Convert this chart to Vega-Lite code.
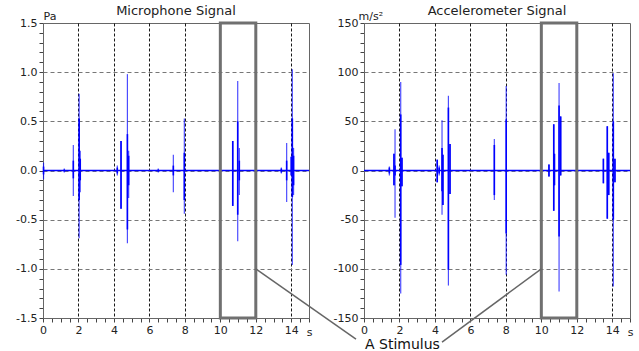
{
  "$schema": "https://vega.github.io/schema/vega-lite/v6.json",
  "background": "white",
  "padding": {"left": 15, "top": 4, "right": 0, "bottom": 0},
  "bounds": "flush",
  "spacing": 55,
  "config": {
    "font": "DejaVu Sans",
    "view": {"stroke": "#666", "strokeWidth": 1},
    "axis": {"labelFont": "DejaVu Sans", "labelFontSize": 11, "labelColor": "#222", "domainColor": "#666", "ticks": true, "tickColor": "#444", "tickSize": 4, "tickCount": 100, "labelPadding": 2, "labelOverlap": false, "labelBound": false, "titleFont": "DejaVu Sans", "titleFontSize": 11, "titleFontWeight": "normal", "titleColor": "#222"},
    "title": {"font": "DejaVu Sans", "fontSize": 13, "fontWeight": "normal", "color": "#222", "baseline": "bottom", "offset": -8, "anchor": "middle"}
  },
  "hconcat": [
    {
      "width": 266,
      "height": 295,
      "title": "Microphone Signal",
      "layer": [
        {
          "data": {"values": [{"start": 0, "end": 15, "level": 0}]},
          "mark": {"type": "rule", "color": "#0000ff", "strokeWidth": 1.5},
          "encoding": {
            "x": {"field": "start", "type": "quantitative", "scale": {"domain": [0, 15], "nice": false, "zero": false},
              "axis": {
                "values": [0,0.5,1,1.5,2,2.5,3,3.5,4,4.5,5,5.5,6,6.5,7,7.5,8,8.5,9,9.5,10,10.5,11,11.5,12,12.5,13,13.5,14,14.5,15],
                "tickCount": 100,
                "labelExpr": "datum.value % 2 === 0 && datum.value < 15 ? format(datum.value, 'd') : ''",
                "grid": true, "gridColor": "#000", "gridDash": [3, 2],
                "gridOpacity": {"condition": {"test": "datum.value % 2 === 0 && datum.value > 0 && datum.value < 15", "value": 0.9}, "value": 0},
                "labelFlush": false,
                "title": "s", "titleX": 266, "titleY": 17, "titleAlign": "center", "titleBaseline": "alphabetic"
              }},
            "x2": {"field": "end"},
            "y": {"field": "level", "type": "quantitative", "scale": {"domain": [-1.5, 1.5], "nice": false, "zero": false},
              "axis": {
                "values": [-1.5,-1.4,-1.3,-1.2,-1.1,-1,-0.9,-0.8,-0.7,-0.6,-0.5,-0.4,-0.3,-0.2,-0.1,0,0.1,0.2,0.3,0.4,0.5,0.6,0.7,0.8,0.9,1,1.1,1.2,1.3,1.4,1.5],
                "tickCount": 100,
                "labelExpr": "abs(datum.value*2 - round(datum.value*2)) < 0.001 ? replace(format(datum.value, '.1f'), '\u2212', '-') : ''",
                "grid": true, "gridColor": "#777", "gridDash": [4, 3],
                "gridOpacity": {"condition": {"test": "abs(datum.value*2 - round(datum.value*2)) < 0.001 && abs(datum.value) < 1.4", "value": 1}, "value": 0},
                "labelFlush": false,
                "title": "Pa", "titleAngle": 0, "titleAlign": "left", "titleBaseline": "alphabetic", "titleX": 0, "titleY": -4
              }}
          }
        },
        {
          "data": {"values": [
            {"t": 0.03, "plo": -0.09, "phi": 0.08, "clo": -0.04, "chi": 0.04},
            {"t": 1.2, "plo": -0.02, "phi": 0.02, "clo": -0.01, "chi": 0.01},
            {"t": 1.71, "plo": -0.26, "phi": 0.26, "clo": -0.08, "chi": 0.1},
            {"t": 2.04, "plo": -0.69, "phi": 0.78, "clo": -0.3, "chi": 0.53},
            {"t": 2.1, "plo": -0.22, "phi": 0.2, "clo": -0.1, "chi": 0.12},
            {"t": 4.19, "plo": -0.05, "phi": 0.05, "clo": -0.03, "chi": 0.03},
            {"t": 4.4, "plo": -0.39, "phi": 0.3, "clo": -0.39, "chi": 0.3},
            {"t": 4.76, "plo": -0.74, "phi": 0.98, "clo": -0.6, "chi": 0.37},
            {"t": 4.83, "plo": -0.28, "phi": 0.2, "clo": -0.15, "chi": 0.15},
            {"t": 6.5, "plo": -0.02, "phi": 0.02, "clo": -0.01, "chi": 0.01},
            {"t": 7.35, "plo": -0.22, "phi": 0.16, "clo": -0.05, "chi": 0.05},
            {"t": 7.97, "plo": -0.44, "phi": 0.53, "clo": -0.3, "chi": 0.18},
            {"t": 10.7, "plo": -0.36, "phi": 0.3, "clo": -0.36, "chi": 0.3},
            {"t": 10.98, "plo": -0.72, "phi": 0.91, "clo": -0.45, "chi": 0.5},
            {"t": 11.07, "plo": -0.25, "phi": 0.23, "clo": -0.1, "chi": 0.1},
            {"t": 13.44, "plo": -0.03, "phi": 0.03, "clo": -0.02, "chi": 0.02},
            {"t": 13.74, "plo": -0.32, "phi": 0.28, "clo": -0.1, "chi": 0.1},
            {"t": 14.0, "plo": -0.05, "phi": 0.14, "clo": -0.05, "chi": 0.14},
            {"t": 14.06, "plo": -0.96, "phi": 1.03, "clo": -0.27, "chi": 0.53},
            {"t": 14.13, "plo": -0.25, "phi": 0.23, "clo": -0.15, "chi": 0.15}
          ]},
          "layer": [
            {
              "mark": {"type": "rule", "color": "#0000ff", "opacity": 0.7, "strokeWidth": 1.2},
              "encoding": {
                "x": {"field": "t", "type": "quantitative", "scale": {"domain": [0, 15], "nice": false, "zero": false}},
                "y": {"field": "plo", "type": "quantitative", "scale": {"domain": [-1.5, 1.5], "nice": false, "zero": false}},
                "y2": {"field": "phi"}
              }
            },
            {
              "mark": {"type": "rule", "color": "#0000ff", "strokeWidth": 1.6},
              "encoding": {
                "x": {"field": "t", "type": "quantitative", "scale": {"domain": [0, 15], "nice": false, "zero": false}},
                "y": {"field": "clo", "type": "quantitative", "scale": {"domain": [-1.5, 1.5], "nice": false, "zero": false}},
                "y2": {"field": "chi"}
              }
            }
          ]
        },
        {
          "data": {"values": [{"start": 10, "end": 12, "lo": -1.5, "hi": 1.5}]},
          "mark": {"type": "rect", "fillOpacity": 0, "stroke": "#707070", "strokeWidth": 3},
          "encoding": {
            "x": {"field": "start", "type": "quantitative", "scale": {"domain": [0, 15], "nice": false, "zero": false}},
            "x2": {"field": "end"},
            "y": {"field": "lo", "type": "quantitative", "scale": {"domain": [-1.5, 1.5], "nice": false, "zero": false}},
            "y2": {"field": "hi"}
          }
        },
        {
          "data": {"values": [{"t0": 12, "v0": -1.0, "t1": 17.65, "v1": -1.714}]},
          "mark": {"type": "rule", "color": "#666", "strokeWidth": 1.5, "clip": false},
          "encoding": {
            "x": {"field": "t0", "type": "quantitative", "scale": {"domain": [0, 15], "nice": false, "zero": false}},
            "x2": {"field": "t1"},
            "y": {"field": "v0", "type": "quantitative", "scale": {"domain": [-1.5, 1.5], "nice": false, "zero": false}},
            "y2": {"field": "v1"}
          }
        }
      ]
    },
    {
      "width": 266,
      "height": 295,
      "title": "Accelerometer Signal",
      "layer": [
        {
          "data": {"values": [{"start": 0, "end": 15, "level": 0}]},
          "mark": {"type": "rule", "color": "#0000ff", "strokeWidth": 1.5},
          "encoding": {
            "x": {"field": "start", "type": "quantitative", "scale": {"domain": [0, 15], "nice": false, "zero": false},
              "axis": {
                "values": [0,0.5,1,1.5,2,2.5,3,3.5,4,4.5,5,5.5,6,6.5,7,7.5,8,8.5,9,9.5,10,10.5,11,11.5,12,12.5,13,13.5,14,14.5,15],
                "tickCount": 100,
                "labelExpr": "datum.value % 2 === 0 && datum.value < 15 ? format(datum.value, 'd') : ''",
                "grid": true, "gridColor": "#000", "gridDash": [3, 2],
                "gridOpacity": {"condition": {"test": "datum.value % 2 === 0 && datum.value > 0 && datum.value < 15", "value": 0.9}, "value": 0},
                "labelFlush": false,
                "title": "s", "titleX": 266, "titleY": 17, "titleAlign": "center", "titleBaseline": "alphabetic"
              }},
            "x2": {"field": "end"},
            "y": {"field": "level", "type": "quantitative", "scale": {"domain": [-150, 150], "nice": false, "zero": false},
              "axis": {
                "values": [-150,-140,-130,-120,-110,-100,-90,-80,-70,-60,-50,-40,-30,-20,-10,0,10,20,30,40,50,60,70,80,90,100,110,120,130,140,150],
                "tickCount": 100,
                "labelExpr": "datum.value % 50 === 0 ? replace(format(datum.value, 'd'), '\u2212', '-') : ''",
                "grid": true, "gridColor": "#777", "gridDash": [4, 3],
                "gridOpacity": {"condition": {"test": "datum.value % 50 === 0 && abs(datum.value) < 140", "value": 1}, "value": 0},
                "labelFlush": false,
                "title": "m/s²", "titleAngle": 0, "titleAlign": "left", "titleBaseline": "alphabetic", "titleX": -6, "titleY": -4
              }}
          }
        },
        {
          "data": {"values": [
            {"t": 1.43, "plo": -5, "phi": 4, "clo": -3, "chi": 3},
            {"t": 1.69, "plo": -15, "phi": 17, "clo": -15, "chi": 17},
            {"t": 1.75, "plo": -48, "phi": 42, "clo": -5, "chi": 5},
            {"t": 2.07, "plo": -125, "phi": 90, "clo": -96, "chi": 57},
            {"t": 2.14, "plo": -16, "phi": 13, "clo": -16, "chi": 13},
            {"t": 4.13, "plo": -12, "phi": 11, "clo": -12, "chi": 11},
            {"t": 4.24, "plo": -5, "phi": 5, "clo": -3, "chi": 3},
            {"t": 4.4, "plo": -45, "phi": 51, "clo": -21, "chi": 23},
            {"t": 4.45, "plo": -35, "phi": 16, "clo": -35, "chi": 16},
            {"t": 4.76, "plo": -117, "phi": 76, "clo": -101, "chi": 64},
            {"t": 4.85, "plo": -24, "phi": 27, "clo": -24, "chi": 27},
            {"t": 7.35, "plo": -30, "phi": 32, "clo": -25, "chi": 26},
            {"t": 8.02, "plo": -106, "phi": 86, "clo": -64, "chi": 52},
            {"t": 10.43, "plo": -6, "phi": 6, "clo": -6, "chi": 6},
            {"t": 10.7, "plo": -41, "phi": 47, "clo": -41, "chi": 47},
            {"t": 10.74, "plo": -15, "phi": 17, "clo": -15, "chi": 17},
            {"t": 11.0, "plo": -123, "phi": 89, "clo": -67, "chi": 66},
            {"t": 11.09, "plo": -5, "phi": 55, "clo": -5, "chi": 55},
            {"t": 13.5, "plo": -13, "phi": 12, "clo": -13, "chi": 12},
            {"t": 13.72, "plo": -49, "phi": 45, "clo": -49, "chi": 45},
            {"t": 13.8, "plo": -25, "phi": 18, "clo": -25, "chi": 18},
            {"t": 14.06, "plo": -118, "phi": 99, "clo": -50, "chi": 50},
            {"t": 14.15, "plo": -12, "phi": 12, "clo": -12, "chi": 12}
          ]},
          "layer": [
            {
              "mark": {"type": "rule", "color": "#0000ff", "opacity": 0.7, "strokeWidth": 1.2},
              "encoding": {
                "x": {"field": "t", "type": "quantitative", "scale": {"domain": [0, 15], "nice": false, "zero": false}},
                "y": {"field": "plo", "type": "quantitative", "scale": {"domain": [-150, 150], "nice": false, "zero": false}},
                "y2": {"field": "phi"}
              }
            },
            {
              "mark": {"type": "rule", "color": "#0000ff", "strokeWidth": 1.6},
              "encoding": {
                "x": {"field": "t", "type": "quantitative", "scale": {"domain": [0, 15], "nice": false, "zero": false}},
                "y": {"field": "clo", "type": "quantitative", "scale": {"domain": [-150, 150], "nice": false, "zero": false}},
                "y2": {"field": "chi"}
              }
            }
          ]
        },
        {
          "data": {"values": [{"start": 10, "end": 12, "lo": -150, "hi": 150}]},
          "mark": {"type": "rect", "fillOpacity": 0, "stroke": "#707070", "strokeWidth": 3},
          "encoding": {
            "x": {"field": "start", "type": "quantitative", "scale": {"domain": [0, 15], "nice": false, "zero": false}},
            "x2": {"field": "end"},
            "y": {"field": "lo", "type": "quantitative", "scale": {"domain": [-150, 150], "nice": false, "zero": false}},
            "y2": {"field": "hi"}
          }
        },
        {
          "data": {"values": [{"t0": 10, "v0": -100, "t1": 4.4, "v1": -174.5}]},
          "mark": {"type": "rule", "color": "#666", "strokeWidth": 1.5, "clip": false},
          "encoding": {
            "x": {"field": "t0", "type": "quantitative", "scale": {"domain": [0, 15], "nice": false, "zero": false}},
            "x2": {"field": "t1"},
            "y": {"field": "v0", "type": "quantitative", "scale": {"domain": [-150, 150], "nice": false, "zero": false}},
            "y2": {"field": "v1"}
          }
        },
        {
          "data": {"values": [{"t": 2.17, "v": -182, "label": "A Stimulus"}]},
          "mark": {"type": "text", "font": "DejaVu Sans", "fontSize": 14, "color": "#111", "align": "center", "baseline": "alphabetic", "clip": false},
          "encoding": {
            "x": {"field": "t", "type": "quantitative", "scale": {"domain": [0, 15], "nice": false, "zero": false}},
            "y": {"field": "v", "type": "quantitative", "scale": {"domain": [-150, 150], "nice": false, "zero": false}},
            "text": {"field": "label"}
          }
        }
      ]
    }
  ]
}
